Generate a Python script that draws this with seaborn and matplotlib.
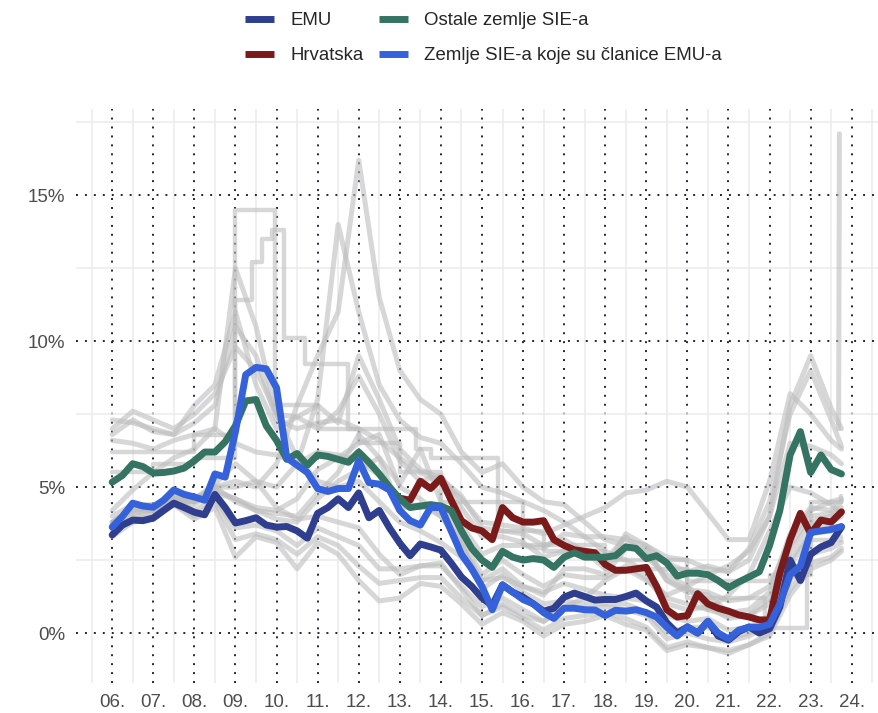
import numpy as np
import pandas as pd
import seaborn as sns
import matplotlib.pyplot as plt
from matplotlib.ticker import FixedLocator

# quarterly time axis, 2006Q1 .. 2023Q4
quarters = np.arange(2006, 2024, 0.25)

emu = [3.36, 3.70, 3.87, 3.85, 3.94, 4.20, 4.45, 4.30, 4.14, 4.05, 4.75, 4.30,
       3.77, 3.85, 3.95, 3.70, 3.63, 3.65, 3.50, 3.25, 4.10, 4.30, 4.60, 4.30,
       4.80, 3.95, 4.20, 3.60, 3.08, 2.65, 3.05, 2.95, 2.84, 2.40, 1.92, 1.60,
       1.20, 0.95, 1.65, 1.40, 1.23, 1.00, 0.75, 0.85, 1.23, 1.37, 1.25, 1.13,
       1.15, 1.15, 1.25, 1.37, 1.10, 0.89, 0.35, 0.00, 0.21, 0.00, 0.40, -0.10,
       -0.24, 0.05, 0.21, 0.00, 0.15, 0.90, 2.50, 1.80, 2.70, 2.95, 3.10, 3.63]

sie_emu = [3.63, 4.00, 4.45, 4.35, 4.31, 4.55, 4.90, 4.75, 4.66, 4.55, 5.45, 5.34,
           6.90, 8.85, 9.10, 9.05, 8.40, 6.00, 5.75, 5.50, 4.95, 4.85, 4.95, 4.95,
           5.90, 5.15, 5.10, 4.90, 4.20, 3.85, 3.70, 4.30, 4.30, 3.50, 2.70, 2.20,
           1.60, 0.80, 1.65, 1.40, 1.15, 1.00, 0.70, 0.50, 0.85, 0.85, 0.80, 0.79,
           0.60, 0.78, 0.75, 0.80, 0.70, 0.55, 0.20, -0.10, 0.21, 0.00, 0.40, 0.00,
           -0.20, 0.10, 0.20, 0.20, 0.30, 1.00, 2.00, 2.30, 3.45, 3.50, 3.55, 3.65]

sie_other = [5.17, 5.40, 5.80, 5.70, 5.48, 5.50, 5.55, 5.65, 5.90, 6.20, 6.20, 6.55,
             7.10, 7.95, 8.00, 7.10, 6.60, 5.95, 6.15, 5.75, 6.10, 6.05, 5.95, 5.85,
             6.20, 5.85, 5.45, 5.00, 4.60, 4.30, 4.35, 4.40, 4.35, 4.20, 3.50, 2.90,
             2.50, 2.25, 2.80, 2.60, 2.50, 2.55, 2.50, 2.25, 2.60, 2.75, 2.60, 2.60,
             2.60, 2.65, 2.95, 2.90, 2.55, 2.65, 2.40, 1.95, 2.05, 2.05, 2.00, 1.80,
             1.55, 1.75, 1.92, 2.10, 3.00, 4.20, 6.10, 6.90, 5.50, 6.10, 5.60, 5.45]

# Croatia from 2013Q1
croatia = [4.62, 4.55, 5.20, 4.95, 5.30, 4.55, 3.85, 3.60, 3.50, 3.20, 4.30, 3.95,
           3.80, 3.80, 3.85, 3.20, 3.00, 2.85, 2.80, 2.75, 2.35, 2.15, 2.15, 2.20,
           2.25, 1.60, 0.80, 0.55, 0.60, 1.35, 1.00, 0.85, 0.75, 0.62, 0.55, 0.45,
           0.45, 2.05, 3.20, 4.10, 3.40, 3.87, 3.80, 4.15]

labels = ["EMU", "Hrvatska", "Ostale zemlje SIE-a", "Zemlje SIE-a koje su članice EMU-a"]
colors = ["#2f3e8e", "#7b1a1a", "#357462", "#3562da"]

# background countries, half-yearly
half_years = list(np.arange(2006, 2024, 0.5)) + [2023.75]

gray_1 = [7.0, 7.6, 7.3, 7.0, 7.5, 8.2, 9.8, 9.0, 7.5, 7.4, 7.8, 7.2,
          9.5, 8.0, 6.3, 5.6, 5.3, 4.7, 3.6, 3.5, 3.4, 3.0, 3.2, 2.8,
          2.2, 3.4, 3.0, 2.4, 2.1, 2.3, 2.1, 2.9, 4.5, 7.5, 9.0, 7.3, 6.4]
gray_2 = [7.3, 7.2, 7.0, 6.8, 7.2, 7.8, 10.5, 9.5, 7.3, 7.0, 7.2, 7.3,
          7.0, 6.6, 6.0, 5.5, 5.2, 4.6, 3.8, 3.7, 3.6, 3.4, 3.7, 4.0,
          4.3, 4.8, 4.9, 5.2, 5.0, 4.1, 3.2, 3.2, 5.2, 8.2, 7.5, 6.6, 6.3]
gray_3 = [6.6, 6.5, 6.3, 6.6, 6.8, 7.0, 6.5, 6.2, 6.1, 5.8, 6.2, 6.1,
          5.9, 5.4, 4.3, 4.3, 4.4, 3.7, 2.7, 3.0, 3.0, 2.9, 3.4, 3.3,
          3.3, 3.2, 3.0, 2.6, 2.5, 2.2, 2.1, 2.5, 4.0, 6.5, 6.4, 6.1, 5.8]
gray_4 = [3.6, 4.0, 4.1, 4.5, 4.5, 5.0, 5.2, 5.0, 5.8, 7.8, 9.5, 11.0,
          16.2, 11.5, 9.0, 8.0, 7.5, 6.2, 5.5, 5.8, 5.0, 4.5, 4.4, 3.8,
          3.2, 3.0, 2.8, 1.8, 1.5, 1.4, 1.1, 1.2, 1.6, 3.2, 4.2, 4.5, 4.6]
gray_5 = [3.8, 4.2, 4.3, 4.6, 4.6, 5.1, 5.8, 5.2, 5.0, 5.8, 8.0, 14.0,
          11.0, 8.5, 7.3, 6.7, 6.5, 5.8, 5.0, 4.8, 4.5, 4.2, 3.8, 3.3,
          2.8, 2.5, 2.1, 1.2, 1.0, 0.8, 0.6, 0.6, 1.0, 2.8, 3.8, 4.0, 4.2]
gray_6 = [4.2, 4.9, 5.5, 6.0, 6.3, 7.0, 12.5, 10.5, 7.5, 6.0, 5.2, 5.0,
          5.2, 4.5, 3.8, 3.5, 3.1, 2.6, 1.8, 1.9, 1.6, 1.4, 1.7, 1.5,
          1.3, 1.2, 1.1, 0.6, 0.4, 0.5, 0.1, 0.2, 0.6, 2.5, 3.5, 3.8, 4.0]
gray_7 = [3.3, 3.8, 3.9, 4.4, 4.0, 4.5, 3.2, 3.4, 3.2, 2.7, 3.3, 3.0,
          2.3, 1.7, 1.8, 1.9, 1.9, 1.2, 0.6, 0.9, 0.5, 0.1, 0.5, 0.6,
          0.7, 0.5, 0.2, -0.5, -0.3, -0.5, -0.6, -0.4, 0.0, 1.5, 2.4, 2.6, 2.9]
gray_8 = [3.5, 3.9, 4.0, 4.6, 4.2, 4.6, 3.6, 3.7, 3.5, 3.0, 3.6, 3.3,
          3.0, 2.2, 2.2, 2.3, 2.3, 1.6, 0.9, 1.2, 0.8, 0.4, 0.9, 0.8,
          0.9, 0.8, 0.6, -0.2, 0.0, -0.2, -0.3, -0.1, 0.3, 1.8, 2.7, 2.9, 3.1]
gray_9 = [3.7, 4.1, 4.2, 4.6, 4.4, 4.9, 4.6, 4.3, 4.2, 4.6, 5.6, 6.0,
          6.5, 6.8, 5.0, 4.6, 4.0, 3.2, 2.0, 2.5, 2.0, 1.6, 2.0, 1.9,
          1.9, 2.3, 1.9, 1.0, 0.8, 0.9, 0.5, 0.6, 1.2, 3.0, 4.0, 4.1, 4.3]
gray_10 = [3.8, 4.3, 4.2, 4.7, 4.6, 5.0, 5.0, 5.2, 4.3, 3.9, 4.0, 3.8,
           3.6, 2.7, 2.0, 2.3, 2.4, 1.5, 0.6, 1.0, 0.6, 0.4, 0.9, 1.2,
           1.8, 2.2, 1.8, 1.3, 1.6, 0.8, 1.3, 2.0, 3.5, 5.0, 4.8, 4.4, 4.1]
gray_11 = [4.0, 4.4, 4.4, 4.6, 4.5, 4.8, 4.6, 4.2, 3.9, 3.8, 4.6, 5.2,
           5.6, 6.0, 5.1, 6.3, 4.5, 3.1, 1.5, 2.0, 1.4, 1.0, 1.1, 1.0,
           1.0, 1.0, 0.7, 0.0, 0.2, 0.2, -0.2, 0.0, 0.4, 2.3, 3.4, 3.5, 3.6]
gray_12 = [3.8, 4.2, 4.2, 4.7, 4.5, 5.0, 4.5, 4.2, 4.1, 4.0, 4.8, 5.5,
           6.8, 6.0, 4.3, 4.4, 4.0, 3.0, 1.8, 2.2, 1.6, 1.3, 2.2, 2.2,
           2.0, 2.9, 2.9, 1.8, 1.4, 1.3, 0.7, 0.8, 1.4, 3.4, 4.3, 4.2, 4.5]
gray_13 = [3.4, 3.9, 3.9, 4.4, 3.9, 4.3, 2.6, 3.3, 3.1, 2.2, 3.1, 2.7,
           1.8, 1.1, 1.2, 1.7, 1.6, 1.0, 0.3, 0.7, 0.4, -0.1, 0.3, 0.4,
           0.6, 0.3, 0.1, -0.6, -0.4, -0.5, -0.7, -0.4, -0.1, 1.3, 2.2, 2.5, 2.8]
gray_14 = [6.8, 7.3, 6.9, 6.8, 7.8, 8.5, 11.0, 8.5, 7.0, 7.4, 7.0, 7.6,
           8.8, 7.5, 5.9, 5.2, 5.4, 4.3, 3.3, 3.3, 3.1, 2.6, 2.8, 2.7,
           2.5, 3.3, 2.6, 2.0, 1.6, 2.0, 2.3, 2.8, 4.0, 7.8, 9.5, 7.7, 7.0]
gray_series = [gray_1, gray_2, gray_3, gray_4, gray_5, gray_6, gray_7,
               gray_8, gray_9, gray_10, gray_11, gray_12, gray_13, gray_14]

# last-month jump of one country
jump_t = [2023.68, 2023.7]
jump = [7.0, 17.1]

# two countries with administered (step-wise) rates
step_a_t = [2006.0, 2008.0, 2009.0, 2009.97, 2011.0, 2012.0, 2013.0, 2014.0,
            2016.0, 2018.0, 2020.0, 2021.9, 2022.9, 2023.75]
step_a = [6.2, 6.8, 14.5, 7.8, 7.0, 6.5, 5.5, 4.5, 3.0, 2.2, 1.2, 0.17, 3.2, 3.3]
step_b_t = [2006.0, 2007.0, 2008.0, 2009.0, 2009.4, 2009.65, 2009.9, 2010.17,
            2010.7, 2011.75, 2013.4, 2013.75, 2015.4, 2016.5, 2018.0, 2020.0,
            2022.0, 2023.0, 2023.75]
step_b = [5.5, 5.8, 6.0, 11.4, 12.7, 13.5, 13.8, 10.1, 9.2, 7.0, 6.3, 6.0,
          3.5, 2.8, 2.5, 1.8, 2.0, 4.5, 4.7]

gray_df = pd.concat([pd.DataFrame({"t": half_years, "value": s, "country": i})
                     for i, s in enumerate(gray_series)]
                    + [pd.DataFrame({"t": jump_t, "value": jump, "country": "jump"})])
step_df = pd.concat([pd.DataFrame({"t": step_a_t, "value": step_a, "country": "a"}),
                     pd.DataFrame({"t": step_b_t, "value": step_b, "country": "b"})])

main_df = pd.concat([
    pd.DataFrame({"t": quarters, "value": emu, "series": labels[0]}),
    pd.DataFrame({"t": quarters[28:], "value": croatia, "series": labels[1]}),
    pd.DataFrame({"t": quarters, "value": sie_other, "series": labels[2]}),
    pd.DataFrame({"t": quarters, "value": sie_emu, "series": labels[3]}),
])

sns.set_theme(style="white")
plt.rcParams["font.family"] = ["Liberation Sans", "DejaVu Sans"]

fig = plt.figure(figsize=(8.79, 7.13), dpi=100)
ax = fig.add_axes([0.0865, 0.0421, 0.9124, 0.805])

sns.lineplot(data=gray_df, x="t", y="value", units="country", estimator=None,
             color="#bdbdbd", alpha=0.6, linewidth=3.6, legend=False, ax=ax)
sns.lineplot(data=step_df, x="t", y="value", units="country", estimator=None,
             color="#bdbdbd", alpha=0.6, linewidth=3.2, legend=False,
             drawstyle="steps-post", ax=ax)
sns.lineplot(data=main_df, x="t", y="value", hue="series", hue_order=labels,
             palette=colors, linewidth=5.0, ax=ax)

ax.set_xlim(2005.12, 2024.64)
ax.set_ylim(-1.71, 17.95)
years = list(range(2006, 2025))
ax.set_xticks(years)
ax.set_xticklabels([f"{y % 100:02d}." for y in years])
ax.set_yticks([0, 5, 10, 15])
ax.set_yticklabels(["0%", "5%", "10%", "15%"])
ax.xaxis.set_minor_locator(FixedLocator(np.arange(2005.5, 2025, 1.0)))
ax.yaxis.set_minor_locator(FixedLocator([2.5, 7.5, 12.5, 17.5]))
ax.set_axisbelow(True)
ax.grid(which="minor", color="#ebebeb", linewidth=1.1)
ax.grid(which="major", color="#1c2540", linewidth=1.4, linestyle=(0, (1, 3.6)))
ax.tick_params(which="both", length=0, labelsize=13.5, labelcolor="#4d4d4d", pad=8)
ax.set_xlabel("")
ax.set_ylabel("")
sns.despine(ax=ax, left=True, bottom=True)

handles, lbls = ax.get_legend_handles_labels()
ax.get_legend().remove()
leg = fig.legend(handles, lbls, loc="upper center", bbox_to_anchor=(0.550, 1.006),
                 ncol=2, frameon=False, fontsize=13.4, handlelength=1.56,
                 handletextpad=0.9, columnspacing=0.8, labelspacing=0.95)
for line in leg.get_lines():
    line.set_linewidth(5)
    line.set_solid_capstyle("butt")

fig.savefig("out.png", dpi=100)
